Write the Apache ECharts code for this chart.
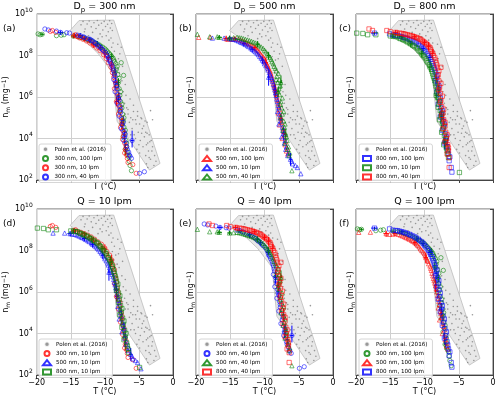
<!DOCTYPE html>
<html>
<head>
<meta charset="utf-8">
<script src="https://cdn.jsdelivr.net/npm/echarts@6.0.0/dist/echarts.min.js"></script>
<style>
html, body { margin: 0; padding: 0; background: #fff; }
#chart { width: 500px; height: 397px; }
</style>
</head>
<body>
<div id="chart"></div>
<script>
// axis ticks
const tempTicks = [-20, -15, -10, -5, 0];
const nRange = [1e2, 1e10];

// panel text
const panelTitles = ['D{sub|p} = 300 nm', 'D{sub|p} = 500 nm', 'D{sub|p} = 800 nm',
                     'Q = 10 lpm', 'Q = 40 lpm', 'Q = 100 lpm'];
const panelTags = ['(a)', '(b)', '(c)', '(d)', '(e)', '(f)'];

// Polen et al. (2016) envelope and points [T, n_m]
const polenArea = [[-13.8, 4.8e9], [-8.7, 5.1e9], [-1.9, 6.3e2], [-3.45, 3e2], [-8.2, 6.8e4],
                   [-8.9, 1.55e7], [-11.0, 1.26e8], [-12.7, 4.3e8], [-15.1, 1.6e9]];
const polenPoints = [
  [-13.5,3e9],[-13.2,4.4e9],[-12.9,1.9e9],[-12.6,3.3e9],[-12.3,4.6e9],[-12.0,2.4e9],[-11.8,1.3e9],
  [-11.6,3.8e9],[-11.3,2e9],[-11.1,4.9e9],[-10.9,2.9e9],[-10.7,1.1e9],[-10.5,3.6e9],[-10.3,1.7e9],
  [-10.1,4.4e9],[-9.9,2.5e9],[-9.8,9e8],[-9.6,3.2e9],[-9.5,1.4e9],[-9.3,4.7e9],[-9.2,2.1e9],
  [-9.1,7e8],[-9.0,3.5e9],[-8.9,1.6e9],[-13.0,1.4e9],[-12.4,9e8],[-11.0,6.5e8],[-10.4,8e8],[-9.4,5.5e8],
  [-8.8,4e8],[-9.0,2.5e8],[-8.6,1.6e8],[-8.9,9e7],[-8.4,6e7],[-8.7,3.5e7],[-8.5,1.5e7],[-8.2,2.2e7],
  [-8.0,7e7],[-7.8,1.2e8],[-7.6,2.5e8],[-8.1,3.5e8],[-7.9,1.5e7],[-7.5,6e6],[-8.3,5e6],[-8.0,2.5e6],
  [-7.3,1.8e6],[-8.4,9e5],[-7.7,6e5],[-8.6,3e6],[-8.2,1.2e6],[-7.0,4e6],[-7.4,3e7],[-8.1,6e5],
  [-7.4,3.5e5],[-7.0,1.5e5],[-6.6,2.5e5],[-6.2,1e5],[-5.8,2e5],[-5.5,8e4],[-5.2,1.2e5],[-4.9,5e4],
  [-4.6,9e4],[-4.3,4e4],[-4.0,2e4],[-3.8,6e4],[-3.5,1.5e4],[-3.2,8e3],[-6.8,3e5],[-6.4,6e4],
  [-6.0,3e4],[-5.7,1.5e4],[-5.4,5e4],[-5.1,2e4],[-4.8,8e3],[-4.5,3e4],[-4.2,1.2e4],[-3.9,5e3],
  [-3.6,2.5e3],[-3.3,1e3],[-3.0,4e3],[-2.7,1.5e3],[-2.5,8e2],[-4.0,1.5e3],[-3.7,6e3],[-4.4,4e3],
  [-5.0,5e3],[-5.5,1e4],[-6.2,1.5e4],[-5.9,8e4],[-6.6,1.5e5],[-7.1,5e5],[-4.7,1e5],[-5.2,2e5],
  [-5.8,4e5],[-6.3,8e5],[-6.9,1.2e6],[-3.8,1.8e4],[-3.4,7e3],[-3.1,2.5e3],[-2.8,5e2],[-4.1,7e4],
  [-4.6,1.8e4],[-5.3,3e3],[-3.5,1.2e3],[-3.3,2.2e5],[-3.0,8e4],[-4.9,2e3],[-3.9,6e2],[-3.7,4e2]
];

// measurements [T, n_m]
const d300_100 = [[-19.8,1.1e9],[-19.5,1.0e9],[-19.2,1.05e9],[-17.1,9e8],[-16.4,9.5e8],[-16.0,1e9],[-14.6,8.5e8],
  [-13.9,8e8],[-13.2,7e8],[-12.6,6e8],[-12.0,5e8],[-11.4,4e8],[-10.8,3.2e8],[-10.3,2.5e8],[-9.8,1.8e8],
  [-9.4,1.3e8],[-9.0,9e7],[-8.7,6e7],[-8.4,4e7],[-7.6,4.5e7],[-8.3,2.2e7],[-8.1,1.2e7],[-7.25,1.1e7],
  [-8.0,5e6],[-7.9,2.5e6],[-7.8,1.2e6],[-7.7,6e5],[-7.5,3e5],[-7.4,1.5e5],[-7.3,7e4],[-7.2,3.5e4],
  [-7.1,1.8e4],[-6.9,8e3],[-6.8,4e3],[-6.7,2.2e3],[-6.5,1.3e3],[-6.3,5e2],[-6.1,2.8e2],
  [-13.6,7.5e8],[-12.9,6.5e8],[-12.3,5.5e8],[-11.7,4.5e8],[-11.1,3.6e8],[-10.6,2.8e8],[-10.0,2.1e8],
  [-9.6,1.5e8],[-9.2,1.1e8],[-8.8,7.5e7],[-8.6,5e7],[-8.2,3e7],[-8.5,1.6e7],[-7.9,8e6],[-8.2,3.5e6],
  [-7.7,1.8e6],[-8.0,9e5],[-7.5,4.5e5],[-7.8,2.2e5],[-7.2,1e5],[-7.5,5e4],[-7.0,2.5e4],[-7.3,1.2e4],
  [-6.8,6e3],[-7.0,3e3],[-6.6,1.6e3],[-6.4,8e2]];
const d300_10 = [[-18.0,1.45e9],[-17.7,1.6e9],[-17.2,1.3e9],[-14.6,9e8],[-14.3,1e9],[-14.0,8e8],[-13.5,7.5e8],
  [-13.0,6.5e8],[-12.5,5.5e8],[-12.0,4.5e8],[-11.5,3.5e8],[-11.0,2.6e8],[-10.5,2e8],[-10.0,1.3e8],
  [-9.7,9e7],[-9.3,6e7],[-9.0,3.5e7],[-8.8,2e7],[-8.6,1.2e7],[-8.5,6e6],[-8.3,3e6],[-8.2,1.5e6],
  [-8.0,8e5],[-7.9,4e5],[-7.8,2e5],[-7.6,1e5],[-7.5,5e4],[-7.4,2.5e4],[-7.3,1.3e4],[-7.1,6e3],
  [-7.0,3e3],[-6.8,1.6e3],[-6.6,7e2],[-5.9,5.5e2],[-5.4,2.1e2],
  [-14.2,8.5e8],[-13.7,7e8],[-13.2,6e8],[-12.7,5e8],[-12.2,4e8],[-11.7,3.2e8],[-11.2,2.3e8],
  [-10.7,1.7e8],[-10.2,1.1e8],[-9.8,7e7],[-9.5,4.5e7],[-9.1,2.7e7],[-8.9,1.5e7],[-8.7,9e6],[-8.4,4.5e6],
  [-8.6,2.5e6],[-8.1,1.1e6],[-8.3,6e5],[-7.8,3e5],[-8.0,1.5e5],[-7.5,7e4],[-7.7,3.5e4],[-7.2,1.8e4],
  [-7.4,9e3],[-6.9,4.5e3],[-7.1,2e3],[-6.7,1.1e3]];
const d300_40 = [[-18.8,1.9e9],[-18.3,1.7e9],[-17.1,1.5e9],[-16.5,1.3e9],[-15.6,1.25e9],[-15.2,1.2e9],
  [-13.6,9e8],[-13.2,8e8],[-12.2,6e8],[-11.8,5e8],[-11.3,3.8e8],[-10.9,2.8e8],[-10.4,2e8],[-9.9,1.4e8],
  [-9.5,8e7],[-9.2,5e7],[-8.9,3e7],[-8.7,1.8e7],[-8.5,1e7],[-8.4,5e6],[-8.2,2.5e6],[-8.1,1.3e6],
  [-7.9,7e5],[-7.8,3.5e5],[-7.7,1.8e5],[-7.5,9e4],[-7.4,4.5e4],[-7.2,2.2e4],[-7.1,1.2e4],[-6.9,6e3],
  [-6.7,3e3],[-6.4,1.6e3],[-6.1,1.1e3],[-6.0,8e3],[-4.9,2.1e2],[-4.2,2.5e2],
  [-14.0,9.5e8],[-13.0,7.5e8],[-12.6,6.5e8],[-12.0,5.5e8],[-11.5,4.2e8],[-11.1,3.2e8],[-10.6,2.4e8],
  [-10.2,1.7e8],[-9.7,1.1e8],[-9.4,6e7],[-9.1,4e7],[-8.8,2.3e7],[-8.6,1.3e7],[-8.7,7e6],[-8.3,3.5e6],
  [-8.5,1.8e6],[-8.0,9e5],[-8.2,5e5],[-7.7,2.5e5],[-7.9,1.2e5],[-7.3,6e4],[-7.6,3e4],[-7.0,1.6e4],
  [-7.2,8e3],[-6.8,4e3],[-6.5,2.2e3],[-6.3,1.4e3]];
const d500_100 = [[-19.6,7.5e8],[-17.9,7.6e8],[-15.6,6.5e8],[-15.1,6e8],[-14.3,6.5e8],[-13.8,6e8],[-13.2,5e8],
  [-12.7,4.2e8],[-12.2,3.5e8],[-11.7,2.8e8],[-11.2,2.1e8],[-10.8,1.5e8],[-10.4,1e8],[-10.0,7e7],
  [-9.8,4.5e7],[-9.5,3e7],[-9.2,1.8e7],[-9.0,1.1e7],[-8.8,6e6],[-8.6,3.5e6],[-8.4,2e6],[-8.2,1e6],
  [-8.0,5e5],[-7.8,2.5e5],[-7.7,1.2e5],[-7.5,6e4],[-7.3,3e4],[-7.1,1.5e4],[-6.9,7e3],[-6.7,3.5e3],[-6.6,1.8e3],
  [-14.6,6.2e8],[-13.5,5.5e8],[-12.9,4.6e8],[-12.4,3.8e8],[-11.9,3.1e8],[-11.4,2.4e8],[-11.0,1.8e8],
  [-10.6,1.2e8],[-10.2,8.5e7],[-9.9,5.5e7],[-9.6,3.5e7],[-9.4,2.3e7],[-9.1,1.4e7],[-8.9,8e6],[-8.7,4.5e6],
  [-8.5,2.7e6],[-8.3,1.4e6],[-8.1,7e5],[-7.9,3.5e5],[-8.0,1.7e5],[-7.6,9e4],[-7.8,4.5e4],[-7.2,2.2e4],
  [-7.4,1e4],[-7.0,5e3],[-6.8,2.5e3]];
const d500_10 = [[-17.6,6.9e8],[-15.9,6.9e8],[-15.1,6.5e8],[-14.4,6e8],[-13.8,5e8],[-13.3,4.2e8],[-12.8,3.4e8],
  [-12.3,2.7e8],[-11.8,2e8],[-11.3,1.5e8],[-10.9,1.1e8],[-10.5,7.5e7],[-10.1,5e7],[-9.8,3.2e7],
  [-9.5,2e7],[-9.4,9e6],[-9.2,1.2e7],[-8.9,7e6],[-8.7,4e6],[-8.5,2.2e6],[-8.3,1.2e6],[-8.1,6e5],
  [-7.9,3e5],[-7.8,1.5e5],[-7.6,7e4],[-7.4,3.5e4],[-7.2,1.7e4],[-7.0,8e3],[-6.8,4e3],[-6.5,2e3],
  [-6.2,1e3],[-5.9,6e2],[-5.2,4e2],[-4.7,2e2],
  [-14.8,6.2e8],[-14.1,5.5e8],[-13.5,4.5e8],[-13.0,3.8e8],[-12.5,3e8],[-12.0,2.3e8],[-11.5,1.7e8],
  [-11.1,1.3e8],[-10.7,9e7],[-10.3,6e7],[-10.0,4e7],[-9.6,2.5e7],[-9.3,1.5e7],[-9.0,9e6],[-8.8,5.5e6],
  [-8.6,3e6],[-8.4,1.6e6],[-8.2,8e5],[-8.0,4e5],[-8.1,2e5],[-7.7,1e5],[-7.9,5e4],[-7.3,2.5e4],
  [-7.5,1.2e4],[-7.1,6e3],[-6.9,3e3],[-6.6,1.5e3],[-6.0,8e2],[-5.5,5e2]];
const d500_40 = [[-19.8,1.05e9],[-18.0,8e8],[-16.9,8e8],[-16.6,7.5e8],[-15.1,7e8],[-14.0,7.5e8],[-13.4,7e8],
  [-12.8,6e8],[-12.2,5.2e8],[-11.6,4.4e8],[-11.0,3.5e8],[-10.5,2.6e8],[-10.0,1.8e8],[-9.6,1.2e8],
  [-9.2,8e7],[-8.9,5e7],[-8.6,3e7],[-8.3,1.8e7],[-7.6,5e6],[-8.2,1e7],[-8.1,5e6],[-7.9,2.5e6],
  [-7.8,1.3e6],[-7.6,6e5],[-7.5,3e5],[-7.4,1.5e5],[-7.2,7e4],[-7.1,3.5e4],[-6.9,1.6e4],[-6.7,8e3],
  [-6.5,4e3],[-6.3,2e3],[-6.0,2.8e2],
  [-14.5,7.2e8],[-13.7,7.2e8],[-13.1,6.5e8],[-12.5,5.6e8],[-11.9,4.8e8],[-11.3,4e8],[-10.8,3e8],
  [-10.2,2.2e8],[-9.8,1.5e8],[-9.4,1e8],[-9.0,6.5e7],[-8.7,4e7],[-8.4,2.4e7],[-8.0,1.4e7],[-7.8,7e6],
  [-8.3,7e6],[-7.7,3.5e6],[-8.0,1.8e6],[-7.4,9e5],[-7.7,4.5e5],[-7.2,2e5],[-7.6,1e5],[-7.0,5e4],
  [-7.3,2.5e4],[-6.8,1.2e4],[-7.0,6e3],[-6.6,3e3],[-6.4,1.5e3]];
const d800_100 = [[-17.3,1.2e9],[-15.1,1.1e9],[-14.6,9.5e8],[-13.9,9e8],[-13.3,8e8],[-12.8,7e8],[-12.2,6e8],
  [-11.7,5e8],[-11.2,4e8],[-10.7,3e8],[-10.2,2.2e8],[-9.8,1.5e8],[-9.4,1e8],[-9.1,6.5e7],[-8.8,4e7],
  [-8.6,2.5e7],[-8.4,1.5e7],[-8.3,8e6],[-8.1,4.5e6],[-8.0,2.5e6],[-7.9,1.3e6],[-7.8,6e5],[-7.6,3e5],
  [-7.5,1.5e5],[-7.3,7e4],[-7.2,3.5e4],[-7.0,1.7e4],[-6.9,8e3],[-6.7,4e3],[-6.5,1.8e3],[-6.4,8.5e2],
  [-6.1,4e2],[-6.0,2.4e2],
  [-14.2,9.2e8],[-13.6,8.5e8],[-13.0,7.5e8],[-12.5,6.5e8],[-12.0,5.5e8],[-11.4,4.5e8],[-10.9,3.5e8],
  [-10.4,2.6e8],[-10.0,1.8e8],[-9.6,1.2e8],[-9.2,8e7],[-8.9,5e7],[-8.7,3.2e7],[-8.5,2e7],[-8.2,1.1e7],
  [-8.4,6e6],[-7.9,3.5e6],[-8.2,1.8e6],[-7.7,9e5],[-8.0,4.5e5],[-7.4,2.2e5],[-7.7,1.1e5],[-7.1,5e4],
  [-7.4,2.5e4],[-6.8,1.2e4],[-7.1,6e3],[-6.6,2.8e3],[-6.3,1.3e3]];
const d800_10 = [[-19.9,1.2e9],[-19.0,1.15e9],[-18.3,1e9],[-17.1,1e9],[-14.6,8.5e8],[-14.0,8e8],[-13.5,6.5e8],
  [-13.0,5.5e8],[-12.5,4.5e8],[-12.0,3.6e8],[-11.5,2.8e8],[-11.0,2.1e8],[-10.6,1.5e8],[-10.2,1e8],
  [-9.8,7e7],[-9.5,4.5e7],[-9.2,2.8e7],[-8.9,1.7e7],[-8.7,1e7],[-8.5,6e6],[-8.3,3.2e6],[-8.2,1.7e6],
  [-8.0,9e5],[-7.9,4.5e5],[-7.7,2.2e5],[-7.6,1.1e5],[-7.4,5.5e4],[-7.3,2.8e4],[-7.1,1.4e4],[-7.0,7e3],
  [-6.8,3.5e3],[-6.6,1.8e3],[-4.9,2.3e2],
  [-15.0,8.8e8],[-14.3,8.2e8],[-13.7,7e8],[-13.2,6e8],[-12.7,5e8],[-12.2,4e8],[-11.7,3.1e8],
  [-11.2,2.4e8],[-10.8,1.7e8],[-10.4,1.2e8],[-10.0,8.5e7],[-9.7,5.5e7],[-9.3,3.5e7],[-9.0,2.2e7],
  [-8.8,1.3e7],[-8.6,8e6],[-8.4,4.5e6],[-8.1,2.4e6],[-8.3,1.2e6],[-7.8,6.5e5],[-8.0,3.2e5],[-7.5,1.6e5],
  [-7.8,8e4],[-7.2,4e4],[-7.5,2e4],[-6.9,1e4],[-7.2,5e3],[-6.7,2.5e3],[-6.5,1.2e3]];
const d800_40 = [[-18.1,1.9e9],[-17.6,1.6e9],[-15.5,1.6e9],[-14.2,1.3e9],[-13.6,1.2e9],[-13.0,1.1e9],[-12.5,1e9],
  [-12.0,9e8],[-11.5,8e8],[-11.0,7e8],[-10.6,6e8],[-10.2,4.8e8],[-9.8,3.8e8],[-9.4,2.8e8],[-9.1,2e8],
  [-8.8,1.3e8],[-8.5,8e7],[-7.6,2.7e7],[-8.3,4.5e7],[-8.1,2.5e7],[-8.0,1.2e7],[-7.9,6e6],[-7.8,3e6],
  [-7.7,1.5e6],[-7.6,7e5],[-7.5,3.5e5],[-7.3,1.7e5],[-7.2,8e4],[-7.0,4e4],[-6.9,2e4],[-6.8,1e4],
  [-6.6,5e3],[-6.5,2.5e3],[-6.4,1.2e3],[-6.4,4e2],
  [-15.0,1.4e9],[-14.0,1.2e9],[-13.3,1.15e9],[-12.8,1.05e9],[-12.2,9.5e8],[-11.7,8.5e8],[-11.2,7.5e8],
  [-10.8,6.5e8],[-10.4,5.5e8],[-10.0,4.3e8],[-9.6,3.3e8],[-9.2,2.4e8],[-9.0,1.6e8],[-8.7,1e8],
  [-8.4,6e7],[-8.2,3.5e7],[-7.9,1.8e7],[-8.1,9e6],[-7.6,4.5e6],[-7.9,2.2e6],[-7.4,1.1e6],[-7.7,5.5e5],
  [-7.2,2.6e5],[-7.5,1.3e5],[-7.0,6e4],[-7.3,3e4],[-6.7,1.5e4],[-7.0,7e3],[-6.5,3.5e3],[-6.7,1.8e3]];

// error bars [T, n_m, dT, n_low, n_high]
const e300_100 = [[-19.2,1.05e9,0.3,9e8,1.2e9],[-14.6,8.5e8,0.3,7e8,1e9],[-9.0,9e7,0.25,6e7,1.3e8],
  [-8.0,5e6,0.2,3e6,8e6],[-7.3,7e4,0.2,4e4,1.2e5],[-11.1,3.6e8,0.3,2.6e8,5e8],[-8.5,1.6e7,0.2,9e6,2.6e7],
  [-7.0,3e3,0.2,1.6e3,5e3]];
const e300_10 = [[-14.5,9e8,0.35,7e8,1.2e9],[-13.0,6.5e8,0.3,5e8,8e8],[-10.0,1.3e8,0.3,8e7,2e8],
  [-9.0,3.5e7,0.25,2e7,6e7],[-7.5,5e4,0.25,2.5e4,1e5],[-7.0,3e3,0.2,1.5e3,6e3],[-11.7,3.2e8,0.3,2.3e8,4.4e8],
  [-8.3,6e5,0.25,3.5e5,1e6]];
const e300_40 = [[-16.5,1.3e9,0.4,1e9,1.6e9],[-13.6,9e8,0.4,7e8,1.2e9],[-12.2,6e8,0.3,4e8,8e8],
  [-9.5,8e7,0.3,5e7,1.3e8],[-8.4,5e6,0.25,2.5e6,1e7],[-6.0,8e3,0.25,3.7e3,2.4e4],[-7.1,1.2e4,0.3,6e3,2.5e4],
  [-10.6,2.4e8,0.3,1.7e8,3.4e8],[-8.0,9e5,0.25,5e5,1.6e6]];
const e500_100 = [[-15.6,6.5e8,0.4,4.5e8,9e8],[-14.3,6.5e8,0.3,5e8,8e8],[-9.8,4.5e7,0.3,2.5e7,8e7],
  [-8.4,2e6,0.25,1e6,4e6],[-11.4,2.4e8,0.3,1.7e8,3.3e8],[-7.6,9e4,0.25,5e4,1.6e5]];
const e500_10 = [[-15.1,6.5e8,0.4,5e8,8.5e8],[-11.8,2e8,0.4,1.4e8,2.8e8],[-9.4,9e6,0.15,3.5e6,2.2e7],
  [-8.5,2.2e6,0.25,1.2e6,4e6],[-7.2,1.7e4,0.3,8e3,3.5e4],[-6.2,1e3,0.25,5e2,2e3],[-13.0,3.8e8,0.35,2.8e8,5e8],
  [-10.3,6e7,0.3,4e7,9e7]];
const e500_40 = [[-16.6,7.5e8,0.4,6e8,9.5e8],[-15.1,7e8,0.35,5.5e8,9e8],[-11.0,3.5e8,0.3,2.5e8,5e8],
  [-7.6,5e6,0.2,2.4e6,1.1e7],[-6.9,1.6e4,0.25,8e3,3e4],[-9.4,1e8,0.3,6.5e7,1.5e8],[-8.0,1.8e6,0.2,1e6,3e6]];
const e800_100 = [[-17.3,1.2e9,0.5,1e9,1.4e9],[-13.3,8e8,0.4,6e8,1e9],[-10.2,2.2e8,0.3,1.5e8,3.2e8],
  [-8.3,8e6,0.25,4e6,1.5e7],[-7.5,1.5e5,0.3,7e4,3e5],[-9.2,8e7,0.3,5e7,1.2e8],[-7.1,6e3,0.25,3e3,1.1e4]];
const e800_10 = [[-14.6,8.5e8,0.35,7e8,1.1e9],[-12.0,3.6e8,0.3,2.5e8,5e8],[-9.2,2.8e7,0.3,1.6e7,5e7],
  [-7.6,1.1e5,0.25,5e4,2.2e5],[-7.0,7e3,0.25,3.5e3,1.4e4],[-10.4,1.2e8,0.3,8e7,1.7e8],[-8.3,1.2e6,0.25,7e5,2e6]];
const e800_40 = [[-14.2,1.3e9,0.4,1e9,1.7e9],[-11.5,8e8,0.35,6e8,1.1e9],[-9.4,2.8e8,0.3,1.8e8,4.5e8],
  [-8.8,1.3e8,0.3,8e7,2e8],[-7.2,8e4,0.3,4e4,1.6e5],[-6.6,5e3,0.3,2.5e3,1e4],[-10.0,4.3e8,0.3,3e8,6e8],
  [-7.9,2.2e6,0.25,1.2e6,4e6]];

const RED = '#ff0000', GREEN = '#008000', BLUE = '#0000ff';
const FONT = 'DejaVu Sans';

const sets = {
  a: { name: '300 nm, 100 lpm', data: d300_100, err: e300_100, symbol: 'circle', color: GREEN },
  b: { name: '300 nm, 10 lpm', data: d300_10, err: e300_10, symbol: 'circle', color: RED },
  c: { name: '300 nm, 40 lpm', data: d300_40, err: e300_40, symbol: 'circle', color: BLUE },
  d: { name: '500 nm, 100 lpm', data: d500_100, err: e500_100, symbol: 'triangle', color: RED },
  e: { name: '500 nm, 10 lpm', data: d500_10, err: e500_10, symbol: 'triangle', color: BLUE },
  f: { name: '500 nm, 40 lpm', data: d500_40, err: e500_40, symbol: 'triangle', color: GREEN },
  g: { name: '800 nm, 100 lpm', data: d800_100, err: e800_100, symbol: 'rect', color: BLUE },
  h: { name: '800 nm, 10 lpm', data: d800_10, err: e800_10, symbol: 'rect', color: GREEN },
  k: { name: '800 nm, 40 lpm', data: d800_40, err: e800_40, symbol: 'rect', color: RED }
};
const panelSets = [['a', 'b', 'c'], ['d', 'e', 'f'], ['g', 'h', 'k'],
                   ['b', 'e', 'h'], ['c', 'f', 'k'], ['a', 'd', 'g']];

const gridLefts = [36, 196, 356];
const gridTops = [14, 209];
const W = 137, H = 166;

const chart = echarts.init(document.getElementById('chart'));

function errRender(params, api) {
  const T = api.value(0), n = api.value(1), dT = api.value(2);
  const a = api.coord([T - dT, n]), b = api.coord([T + dT, n]);
  const c = api.coord([T, api.value(3)]), d = api.coord([T, api.value(4)]);
  const style = { stroke: api.visual('color'), lineWidth: 1 };
  return { type: 'group', children: [
    { type: 'line', shape: { x1: a[0], y1: a[1], x2: b[0], y2: b[1] }, style: style },
    { type: 'line', shape: { x1: c[0], y1: c[1], x2: d[0], y2: d[1] }, style: style }
  ] };
}

const grids = [], xAxes = [], yAxes = [], series = [], legends = [], titles = [], graphics = [];

panelTitles.forEach((title, i) => {
  const col = i % 3, row = Math.floor(i / 3);
  const left = gridLefts[col], top = gridTops[row];
  grids.push({ left: left, top: top, width: W, height: H, show: true,
               borderColor: '#666', borderWidth: 1, backgroundColor: 'transparent' });
  xAxes.push({
    type: 'value', gridIndex: i, min: tempTicks[0], max: tempTicks[tempTicks.length - 1],
    interval: tempTicks[1] - tempTicks[0],
    name: 'T (°C)', nameLocation: 'middle', nameGap: row === 0 ? 3 : 12,
    nameTextStyle: { fontSize: 8, fontFamily: FONT, color: '#000' },
    axisLine: { lineStyle: { color: '#444', width: 1 } },
    axisTick: { show: true, length: 3, lineStyle: { color: '#444' } },
    axisLabel: { show: row === 1, fontSize: 8, fontFamily: FONT, color: '#000', margin: 4,
                 formatter: v => v < 0 ? '\u2212' + (-v) : String(v) },
    splitLine: { show: true, lineStyle: { color: '#cfcfcf', width: 1 } }
  });
  yAxes.push({
    type: 'log', logBase: 10, gridIndex: i, min: nRange[0], max: nRange[1], interval: 2,
    name: 'n{sub|m} (mg{sup|\u22121})', nameLocation: 'middle', nameRotate: 90,
    nameGap: col === 0 ? 20 : 0,
    nameTextStyle: { fontSize: 8, fontFamily: FONT, color: '#000', lineHeight: 10,
      rich: { sub: { fontSize: 6, fontFamily: FONT, lineHeight: 5, verticalAlign: 'bottom' },
              sup: { fontSize: 6, fontFamily: FONT, lineHeight: 5, verticalAlign: 'top' } } },
    axisLine: { show: true, lineStyle: { color: '#444', width: 1 } },
    axisTick: { show: true, length: 3, lineStyle: { color: '#444' } },
    axisLabel: { show: col === 0, fontSize: 8, fontFamily: FONT, color: '#000', margin: 4, lineHeight: 14,
                 formatter: v => '10{sup|' + Math.round(Math.log10(v)) + '}',
                 rich: { sup: { fontSize: 6, fontFamily: FONT, lineHeight: 7, verticalAlign: 'top' } } },
    minorTick: { show: false },
    splitLine: { show: true, lineStyle: { color: '#cfcfcf', width: 1 } }
  });
  titles.push({
    text: title, left: left + W / 2, top: top - 14, textAlign: 'center', padding: 0,
    textStyle: { fontSize: 9.5, fontWeight: 'normal', fontFamily: FONT, color: '#000', lineHeight: 14,
                 rich: { sub: { fontSize: 7, fontFamily: FONT, lineHeight: 8, verticalAlign: 'bottom' } } }
  });
  graphics.push({ type: 'text', x: col === 0 ? 3 : left - 17, y: top + 10,
                  style: { text: panelTags[i], fontSize: 9, fontFamily: FONT, fill: '#000' } });

  // Polen envelope
  series.push({
    type: 'custom', name: 'area' + i, xAxisIndex: i, yAxisIndex: i, silent: true, z: 1,
    data: polenArea, encode: { x: 0, y: 1 },
    renderItem: (params, api) => params.dataIndex !== 0 ? null : {
      type: 'polygon', shape: { points: polenArea.map(p => api.coord(p)) },
      style: { fill: '#e8e8e8', stroke: '#b5b5b5', lineWidth: 0.7 }
    }
  });
  series.push({
    type: 'scatter', name: 'Polen et al. (2016)', xAxisIndex: i, yAxisIndex: i, z: 2,
    symbol: 'circle', symbolSize: 1.6, data: polenPoints, itemStyle: { color: '#808080' }
  });
  panelSets[i].forEach(key => {
    const s = sets[key];
    series.push({
      type: 'scatter', name: s.name, xAxisIndex: i, yAxisIndex: i, z: 3,
      symbol: s.symbol, symbolSize: 4.3, data: s.data,
      itemStyle: { color: 'rgba(255,255,255,0)', borderColor: s.color, borderWidth: 0.7 }
    });
    series.push({
      type: 'custom', name: s.name + ' err' + i, xAxisIndex: i, yAxisIndex: i, z: 3,
      data: s.err, encode: { x: 0, y: 1 }, itemStyle: { color: s.color }, renderItem: errRender
    });
  });

  legends.push({
    orient: 'vertical', left: left + 3, top: top + 130, selectedMode: false,
    itemWidth: 8, itemHeight: 5, itemGap: 2.3, padding: [2, 5, 2, 3],
    backgroundColor: 'rgba(255,255,255,0.8)', borderColor: '#cccccc', borderWidth: 0.8, borderRadius: 2,
    textStyle: { fontSize: 5.6, fontFamily: FONT, color: '#000' },
    data: [{ name: 'Polen et al. (2016)', icon: 'circle',
             itemStyle: { color: '#808080', borderColor: '#fff', borderWidth: 1.6 } }]
            .concat(panelSets[i].map(k => sets[k].name))
  });
});

chart.setOption({
  animation: false,
  backgroundColor: '#fff',
  title: titles,
  grid: grids,
  xAxis: xAxes,
  yAxis: yAxes,
  legend: legends,
  graphic: graphics,
  series: series
});
</script>
</body>
</html>
